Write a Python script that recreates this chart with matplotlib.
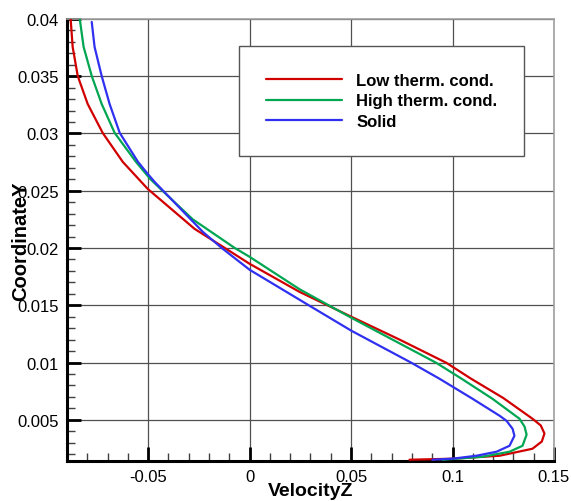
import matplotlib
matplotlib.use("Agg")
import matplotlib.pyplot as plt
from matplotlib.ticker import MultipleLocator, FormatStrFormatter

plt.rcParams['font.family'] = ['Liberation Sans', 'DejaVu Sans']
plt.rcParams['axes.unicode_minus'] = False

# velocity profiles, read bottom (wall) to top
low_vz = [0.0788, 0.1000, 0.1232, 0.1394, 0.1440, 0.1453, 0.1435, 0.1394, 0.1250,
          0.1090, 0.0970, 0.0739, 0.0502, 0.0246, 0.0, -0.0123, -0.0271,
          -0.0502, -0.0625, -0.0724, -0.0798, -0.0847, -0.0872, -0.0882]
low_y = [0.00151, 0.00160, 0.00186, 0.00247, 0.00310, 0.00380, 0.00450, 0.00509, 0.00690,
         0.00860, 0.00997, 0.0120, 0.01399, 0.01617, 0.01862, 0.02001, 0.02167,
         0.02516, 0.02752, 0.03005, 0.03258, 0.03502, 0.03756, 0.0400]

high_vz = [0.0950, 0.1148, 0.1281, 0.1345, 0.1365, 0.1355, 0.1330, 0.1197, 0.1045,
           0.0920, 0.0502, 0.0246, 0.0, -0.0074, -0.0280, -0.0429, -0.0490,
           -0.0560, -0.0665, -0.0729, -0.0778, -0.0818, -0.0837]
high_y = [0.00151, 0.00177, 0.00221, 0.00273, 0.00370, 0.00440, 0.00509, 0.00683, 0.00858,
          0.00997, 0.0139, 0.01640, 0.01923, 0.02001, 0.0225, 0.02499, 0.02603,
          0.02752, 0.03005, 0.03258, 0.03502, 0.03756, 0.0400]

solid_vz = [0.0901, 0.1000, 0.1118, 0.1217, 0.1281, 0.1305, 0.1296, 0.1266, 0.1232,
            0.1099, 0.0936, 0.0798, 0.0502, 0.0296, 0.0, -0.0138, -0.0230, -0.0468,
            -0.0502, -0.0550, -0.0640, -0.0690, -0.0729, -0.0764, -0.0778]
solid_y = [0.00151, 0.00160, 0.00186, 0.00221, 0.00273, 0.00360, 0.00421, 0.00491, 0.00535,
           0.00683, 0.00858, 0.00997, 0.01277, 0.01495, 0.01810, 0.02001, 0.0214, 0.02577,
           0.02647, 0.02752, 0.03005, 0.03258, 0.03502, 0.03756, 0.03974]

labels = ["Low therm. cond.", "High therm. cond.", "Solid"]
colors = ["#d00000", "#00a651", "#3030f0"]

fig = plt.figure(figsize=(5.71, 5.02), dpi=100)
ax = fig.add_axes([0.1173, 0.0797, 0.8529, 0.8805])

for vz, y, lab, c in zip([low_vz, high_vz, solid_vz], [low_y, high_y, solid_y], labels, colors):
    ax.plot(vz, y, color=c, lw=1.6, label=lab, zorder=3,
            solid_joinstyle='round', solid_capstyle='round')

ax.set_xlim(-0.09, 0.15)
ax.set_ylim(0.0014, 0.04)

ax.xaxis.set_major_locator(MultipleLocator(0.05))
ax.xaxis.set_minor_locator(MultipleLocator(0.01))
ax.yaxis.set_major_locator(MultipleLocator(0.005))
ax.yaxis.set_minor_locator(MultipleLocator(0.001))
ax.xaxis.set_major_formatter(FormatStrFormatter('%g'))
ax.yaxis.set_major_formatter(FormatStrFormatter('%g'))

ax.grid(True, which='major', color='#505050', lw=0.9)
ax.tick_params(which='major', direction='in', length=10, width=2, labelsize=12, pad=6,
               top=False, right=False)
ax.tick_params(which='minor', direction='in', length=6, width=1, color='#404040',
               top=False, right=False)

for side in ['left', 'bottom']:
    ax.spines[side].set_linewidth(2.2)
    ax.spines[side].set_color('black')
for side in ['top', 'right']:
    ax.spines[side].set_linewidth(1.2)
    ax.spines[side].set_color('#a0a0a0')

ax.set_xlabel("VelocityZ", fontsize=14, fontweight='bold')
ax.xaxis.set_label_coords(0.5, -0.047)
ax.set_ylabel("CoordinateY", fontsize=14.5, fontweight='bold')
ax.yaxis.set_label_coords(-0.076, 0.5)

leg = ax.legend(loc='upper left', bbox_to_anchor=(0.353, 0.939), borderaxespad=0,
                prop={'weight': 'bold', 'size': 12}, frameon=True, fancybox=False,
                framealpha=1, edgecolor='#555555', handlelength=4.6, handletextpad=0.85,
                labelspacing=0.35, borderpad=1.6)
leg.get_frame().set_linewidth(1.0)
leg.set_zorder(5)

fig.savefig("out.png", dpi=100)
